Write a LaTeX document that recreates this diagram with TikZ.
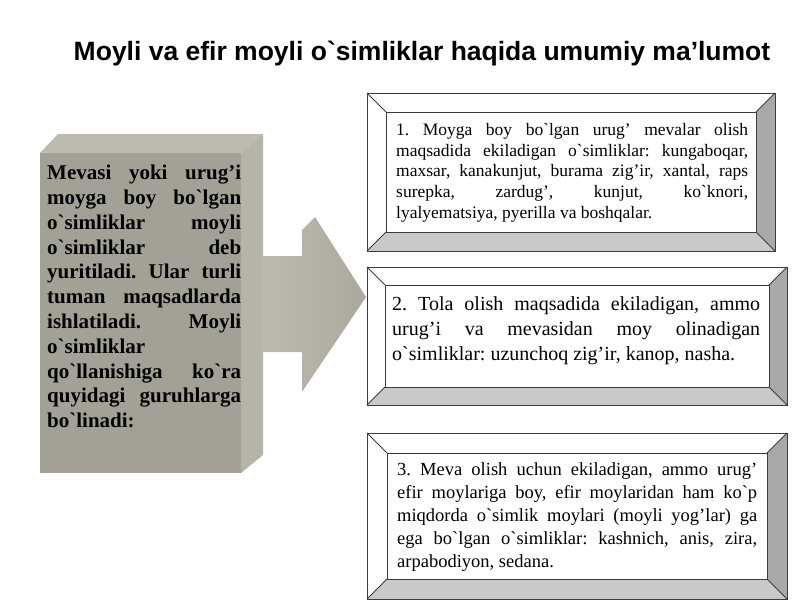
\documentclass[tikz,border=0pt]{standalone}
\usepackage{fontspec}
\setmainfont{Liberation Serif}[Ligatures=TeXOff]
\newfontfamily\headfont{Liberation Sans}[Ligatures=TeXOff]
\usetikzlibrary{calc}
\tikzset{>=stealth}
\hbadness=10000
\hfuzz=20pt
\frenchspacing

\definecolor{slab}{HTML}{A3A195}
\definecolor{slabtop}{HTML}{BDBBAF}
\definecolor{slabside}{HTML}{B6B4A8}
\definecolor{pointer}{HTML}{ABA99D}
\definecolor{bevelright}{HTML}{A9A9A9}
\definecolor{bevelbottom}{HTML}{C9C9C9}
\definecolor{bevelline}{HTML}{3C3C3C}

\tikzset{
  grouptext/.style={anchor=north west, inner sep=0pt, align=justify, text width=#1},
  bevelstroke/.style={draw=bevelline, line width=0.9pt},
}

% framed box with a bevel of width #5
\newcommand\bevelbox[5]{%
  \fill[white] (#1,#2) rectangle (#3,#4);
  \fill[bevelright] (#3,#2) -- (#3,#4) -- ({#3-#5},{#4-#5}) -- ({#3-#5},{#2+#5}) -- cycle;
  \fill[bevelbottom] (#1,#4) -- (#3,#4) -- ({#3-#5},{#4-#5}) -- ({#1+#5},{#4-#5}) -- cycle;
  \draw[bevelstroke] (#1,#2) rectangle (#3,#4);
  \draw[bevelstroke] ({#1+#5},{#2+#5}) rectangle ({#3-#5},{#4-#5});
  \draw[bevelstroke] (#1,#2) -- ({#1+#5},{#2+#5}) (#3,#2) -- ({#3-#5},{#2+#5})
    (#1,#4) -- ({#1+#5},{#4-#5}) (#3,#4) -- ({#3-#5},{#4-#5});
}

\begin{document}
\begin{tikzpicture}[x=1pt,y=-1pt]
  \useasboundingbox (0,0) rectangle (800,600);
  \fill[white] (0,0) rectangle (800,600);

  \node[font=\headfont\bfseries\fontsize{26.5}{30}\selectfont, anchor=base] (title) at (422,60)
    {Moyli va efir moyli o`simliklar haqida umumiy ma’lumot};

  % arrow behind the slab
  \shade[left color=slabtop, right color=pointer]
    (262,256) -- (302,256) -- (302,230) -- (315,217) -- (366,297) -- (302,392)
    -- (302,352) -- (262,352) -- cycle;

  % slab
  \fill[slabtop] (40,153) -- (58,134) -- (263,134) -- (241,153) -- cycle;
  \fill[slabside] (241,153) -- (263,134) -- (263,455) -- (241,473) -- cycle;
  \fill[slab] (40,153) rectangle (241,473);

  \node[grouptext=194pt, font=\bfseries\fontsize{21}{24.8}\selectfont] (info) at (47,165)
    {Mevasi yoki urug’i\linebreak
     moyga boy bo`lgan\linebreak
     o`simliklar moyli\linebreak
     o`simliklar deb\linebreak
     yuritiladi. Ular turli\linebreak
     tuman maqsadlarda\linebreak
     ishlatiladi. Moyli\linebreak
     o`simliklar\\
     qo`llanishiga ko`ra\linebreak
     quyidagi guruhlarga\linebreak
     bo`linadi:};

  \bevelbox{367}{93}{775}{251}{19}
  \bevelbox{367}{267}{787}{405}{18}
  \bevelbox{367}{433}{787}{599}{20}

  \node[grouptext=352pt, font=\fontsize{17.5}{20.8}\selectfont] (group1) at (396,123)
    {1. Moyga boy bo`lgan urug’ mevalar olish\linebreak
     maqsadida ekiladigan o`simliklar: kungaboqar,\linebreak
     maxsar, kanakunjut, burama zig’ir, xantal, raps\linebreak
     surepka, zardug’, kunjut, ko`knori,\linebreak
     lyalyematsiya, pyerilla va boshqalar.};

  \node[grouptext=368pt, font=\fontsize{20}{25}\selectfont] (group2) at (392,296)
    {2. Tola olish maqsadida ekiladigan, ammo\linebreak
     urug’i va mevasidan moy olinadigan\linebreak
     o`simliklar: uzunchoq zig’ir, kanop, nasha.};

  \node[grouptext=360pt, font=\fontsize{18.5}{23}\selectfont] (group3) at (397,462)
    {3. Meva olish uchun ekiladigan, ammo urug’\linebreak
     efir moylariga boy, efir moylaridan ham ko`p\linebreak
     miqdorda o`simlik moylari (moyli yog’lar) ga\linebreak
     ega bo`lgan o`simliklar: kashnich, anis, zira,\linebreak
     arpabodiyon, sedana.};
\end{tikzpicture}
\end{document}
